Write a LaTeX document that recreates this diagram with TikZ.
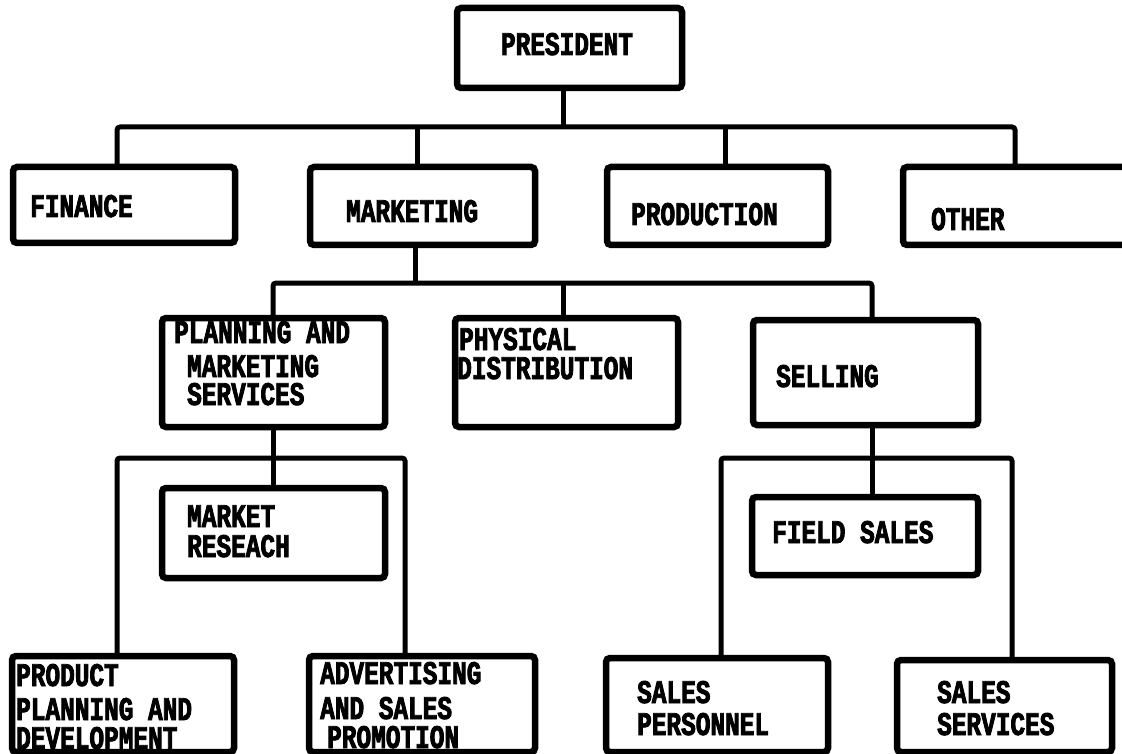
\documentclass[tikz,border=0pt]{standalone}
\usepackage{fontspec}
\newfontfamily\typ[FakeStretch=0.74,FakeBold=2.5]{Liberation Mono}
\begin{document}
\begin{tikzpicture}[x=1pt,y=-1pt,
  boxpos/.style={inner sep=0pt,outer sep=0pt,anchor=north west},
  boxline/.style={draw=black,fill=white,line width=6.5pt,rounded corners=4pt},
  conn/.style={draw=black,line width=5pt,rounded corners=3pt},
  lbl/.style={anchor=base west,inner sep=0pt,font=\typ\bfseries\fontsize{33}{33}\selectfont}]
\useasboundingbox (0,0) rectangle (1122,754);
\fill[white] (0,0) rectangle (1122,754);

% junction coordinates
\coordinate (j1) at (563,127);
\coordinate (j2) at (415,283);
\coordinate (j3) at (273,458);
\coordinate (j4) at (872,458);
% drop columns
\coordinate (cfin) at (117,0);
\coordinate (cmkt) at (417,0);
\coordinate (cprod) at (725,0);
\coordinate (coth) at (1015,0);
\coordinate (cphys) at (563,0);
\coordinate (cpp) at (117,0);
\coordinate (cadv) at (405,0);
\coordinate (csp) at (721,0);
\coordinate (css) at (1012,0);

% box places
\path
 node[boxpos,minimum width=225pt,minimum height=80pt] (pres) at (457,8) {}
 node[boxpos,minimum width=222pt,minimum height=76pt] (fin) at (13,167) {}
 node[boxpos,minimum width=225pt,minimum height=78pt] (mkt) at (310,167) {}
 node[boxpos,minimum width=221pt,minimum height=78pt] (prod) at (607,167) {}
 node[boxpos,minimum width=230pt,minimum height=78pt] (oth) at (903,167) {}
 node[boxpos,minimum width=223pt,minimum height=109pt] (plan) at (162,318) {}
 node[boxpos,minimum width=223pt,minimum height=109pt] (phys) at (455,318) {}
 node[boxpos,minimum width=225pt,minimum height=105pt] (sell) at (753,320) {}
 node[boxpos,minimum width=223pt,minimum height=90pt] (mr) at (162,488) {}
 node[boxpos,minimum width=226pt,minimum height=78pt] (fs) at (752,497) {}
 node[boxpos,minimum width=222pt,minimum height=96pt] (pp) at (12,656) {}
 node[boxpos,minimum width=226pt,minimum height=96pt] (adv) at (309,656) {}
 node[boxpos,minimum width=222pt,minimum height=94pt] (sp) at (606,658) {}
 node[boxpos,minimum width=215pt,minimum height=92pt] (ss) at (897,660) {};

% connectors
\draw[conn] (pres.south -| j1) -- (j1);
\draw[conn] (fin.north -| cfin) |- (j1) -| (oth.north -| coth);
\draw[conn] (mkt.north -| cmkt) -- (j1 -| cmkt);
\draw[conn] (prod.north -| cprod) -- (j1 -| cprod);

\draw[conn] (mkt.south -| j2) -- (j2);
\draw[conn] (plan.north -| j3) |- (j2) -| (sell.north -| j4);
\draw[conn] (phys.north -| cphys) -- (j2 -| cphys);

\draw[conn] (plan.south -| j3) -- (mr.north -| j3);
\draw[conn] (pp.north -| cpp) |- (j3) -| (adv.north -| cadv);

\draw[conn] (sell.south -| j4) -- (fs.north -| j4);
\draw[conn] (sp.north -| csp) |- (j4) -| (ss.north -| css);

% boxes
\foreach \n in {pres,fin,mkt,prod,oth,plan,phys,sell,mr,fs,pp,adv,sp,ss}{
  \draw[boxline] (\n.north west) rectangle (\n.south east);
}

% labels
\node[lbl,anchor=base] (tpres) at (567,55) {PRESIDENT};
\node[lbl] (tfin) at (30,217) {FINANCE};
\node[lbl] (tmkt) at (346,222) {MARKETING};
\node[lbl] (tprod) at (631,225) {PRODUCTION};
\node[lbl] (toth) at (931,230) {OTHER};
\node[lbl] (tplan1) at (174,343) {PLANNING AND};
\node[lbl] (tplan2) at (187,377) {MARKETING};
\node[lbl] (tplan3) at (187,405) {SERVICES};
\node[lbl] (tphys1) at (459,350) {PHYSICAL};
\node[lbl] (tphys2) at (457,379) {DISTRIBUTION};
\node[lbl] (tsell) at (776,387) {SELLING};
\node[lbl] (tmr1) at (187,527) {MARKET};
\node[lbl] (tmr2) at (187,557) {RESEACH};
\node[lbl] (tfs) at (772,543) {FIELD SALES};
\node[lbl] (tpp1) at (16,686) {PRODUCT};
\node[lbl] (tpp2) at (16,720) {PLANNING AND};
\node[lbl] (tpp3) at (16,749) {DEVELOPMENT};
\node[lbl] (tadv1) at (320,684) {ADVERTISING};
\node[lbl] (tadv2) at (320,719) {AND SALES};
\node[lbl] (tadv3) at (327,748) {PROMOTION};
\node[lbl] (tsp1) at (637,703) {SALES};
\node[lbl] (tsp2) at (637,735) {PERSONNEL};
\node[lbl] (tss1) at (937,703) {SALES};
\node[lbl] (tss2) at (937,735) {SERVICES};
\end{tikzpicture}
\end{document}
